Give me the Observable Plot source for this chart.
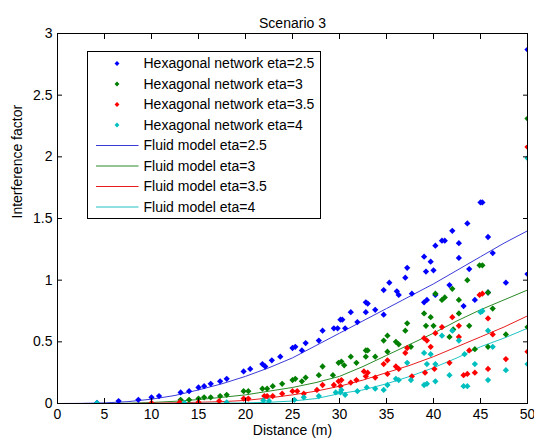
<!DOCTYPE html>
<html><head><meta charset="utf-8">
<script src="https://cdn.jsdelivr.net/npm/d3@7"></script>
<script src="https://cdn.jsdelivr.net/npm/@observablehq/plot@0.6"></script>
<style>body{margin:0;background:#fff;} #chart{position:relative;width:534px;height:443px;}</style>
</head><body><div id="chart"></div>
<script>
// ---- tick values ----
const xTicks = [0, 5, 10, 15, 20, 25, 30, 35, 40, 45, 50];
const yTicks = [0, 0.5, 1, 1.5, 2, 2.5, 3];
const yTickLabels = ["0", "0.5", "1", "1.5", "2", "2.5", "3"];

// ---- series labels / colors ----
const hexLabels = ["Hexagonal network eta=2.5", "Hexagonal network eta=3", "Hexagonal network eta=3.5", "Hexagonal network eta=4"];
const fluidLabels = ["Fluid model eta=2.5", "Fluid model eta=3", "Fluid model eta=3.5", "Fluid model eta=4"];
const colors = ["#0000ff", "#007f00", "#ff0000", "#00bfbf"];
const lineColors = ["#3a3ad8", "#2a8a2a", "#e81c1c", "#20c4c4"];

// ---- Hexagonal network (scatter) ----
const hexX25 = [4.2,6.5,8.6,10.0,10.8,13.1,14.0,15.0,15.6,16.3,17.3,18.0,19.8,20.5,21.8,22.1,22.8,23.7,25.0,25.3,26.0,26.4,27.8,28.2,29.4,29.8,30.1,30.3,30.6,31.2,31.9,32.8,33.0,32.8,33.8,34.7,34.7,35.3,36.1,36.3,37.0,37.2,37.7,39.0,39.0,39.3,39.2,39.7,40.0,40.2,40.2,40.9,41.2,41.7,42.0,42.7,42.7,43.2,43.6,43.8,44.4,45.0,45.2,45.8,45.8,46.3,47.7,50,50];
const hexY25 = [0.005,0.02,0.03,0.05,0.06,0.09,0.10,0.13,0.14,0.16,0.18,0.20,0.26,0.28,0.32,0.30,0.35,0.38,0.45,0.46,0.43,0.49,0.51,0.59,0.61,0.61,0.68,0.68,0.61,0.74,0.66,0.82,0.81,0.74,0.76,0.72,0.92,0.98,0.91,0.88,1.02,1.10,0.89,1.19,0.82,0.84,1.07,1.15,1.08,1.28,0.88,1.32,1.32,0.96,1.40,1.30,1.18,0.79,1.46,1.09,0.84,1.63,1.63,1.35,0.90,1.22,0.98,1.05,2.87];

const hexX3 = [13.1,14.0,15.0,15.6,16.3,17.3,18.0,19.8,20.3,21.8,22.3,22.9,23.9,25.0,25.3,26.0,26.4,27.8,28.2,29.3,29.9,30.2,30.5,31.2,31.8,32.8,33.0,32.8,33.8,34.7,35.1,35.1,36.0,36.3,37.0,37.2,37.6,39.0,39.2,39.7,40.0,40.2,40.9,41.2,41.7,42.0,42.1,42.7,42.7,43.6,43.8,44.4,44.9,45.2,45.8,45.8,46.3,47.7,50,50];
const hexY3 = [0.03,0.03,0.04,0.05,0.05,0.06,0.07,0.10,0.10,0.12,0.12,0.14,0.16,0.19,0.20,0.18,0.21,0.23,0.30,0.23,0.33,0.34,0.31,0.38,0.33,0.43,0.43,0.38,0.38,0.51,0.42,0.55,0.50,0.48,0.59,0.65,0.46,0.73,0.63,0.70,0.63,0.89,0.84,0.86,0.54,0.93,0.60,0.84,0.73,1.00,0.63,0.44,1.12,1.12,0.90,0.46,0.77,0.56,0.62,2.31];

const hexX35 = [10.0,13.0,15.0,17.2,19.8,20.3,22.0,22.3,22.9,23.9,25.0,25.5,26.2,27.6,28.2,29.4,29.9,30.2,30.1,31.2,31.8,32.6,33.0,32.8,33.8,34.7,35.1,35.1,36.0,36.3,37.0,37.2,37.7,39.0,39.1,39.3,39.7,40.2,40.1,40.9,42.0,41.7,42.7,42.7,43.2,43.6,43.8,44.4,44.9,45.2,45.8,45.8,46.3,47.7,50,50];
const hexY35 = [0.005,0.01,0.01,0.02,0.04,0.04,0.06,0.06,0.06,0.08,0.10,0.10,0.08,0.11,0.15,0.15,0.18,0.19,0.14,0.17,0.19,0.26,0.25,0.22,0.21,0.32,0.24,0.35,0.30,0.28,0.41,0.45,0.22,0.53,0.25,0.51,0.46,0.57,0.28,0.62,0.70,0.33,0.63,0.54,0.23,0.24,0.43,0.25,0.88,0.89,0.69,0.28,0.56,0.36,0.42,2.08];

const hexX4 = [4.2,13.5,18.0,21.9,22.5,25.2,26.2,27.8,29.6,30.1,30.2,30.6,31.9,32.9,33.8,34.7,35.1,36.0,36.3,37.2,37.6,39.0,39.0,39.3,39.3,39.7,40.2,40.2,40.9,41.7,42.0,42.7,43.3,43.2,43.6,44.4,45.0,45.2,45.8,45.8,46.3,47.7,50,50];
const hexY4 = [0.005,0.005,0.01,0.025,0.02,0.03,0.05,0.06,0.09,0.09,0.11,0.07,0.10,0.13,0.12,0.11,0.15,0.20,0.19,0.33,0.19,0.41,0.15,0.16,0.32,0.40,0.32,0.18,0.55,0.23,0.59,0.51,0.40,0.14,0.14,0.32,0.74,0.75,0.59,0.19,0.46,0.27,0.32,1.99];

// ---- Fluid model (lines) ----
const fluidX = [0,2.5,5,7.5,10,12.5,15,17.5,20,22.5,25,27.5,30,32.5,35,37.5,40,42.5,45,47.5,50];
const fluidY25 = [0,0.001,0.005,0.015,0.035,0.065,0.11,0.16,0.22,0.29,0.37,0.47,0.57,0.67,0.77,0.87,0.97,1.08,1.19,1.30,1.40];
const fluidY3 = [0,0,0,0.002,0.008,0.018,0.032,0.05,0.07,0.10,0.13,0.17,0.22,0.30,0.39,0.48,0.57,0.67,0.76,0.84,0.92];
const fluidY35 = [0,0,0,0,0.002,0.006,0.01,0.015,0.025,0.045,0.07,0.10,0.14,0.19,0.25,0.31,0.38,0.46,0.54,0.62,0.71];
const fluidY4 = [0,0,0,0,0,0.001,0.002,0.003,0.005,0.01,0.02,0.04,0.08,0.11,0.16,0.22,0.29,0.37,0.46,0.53,0.61];

const hexXs = [hexX25, hexX3, hexX35, hexX4];
const hexYs = [hexY25, hexY3, hexY35, hexY4];
const fluidYs = [fluidY25, fluidY3, fluidY35, fluidY4];

const hexData = hexXs.flatMap((xs, i) => xs.map((x, j) => ({x, y: hexYs[i][j], s: i})));
const fluidData = fluidYs.flatMap((ys, i) => ys.map((y, j) => ({x: fluidX[j], y, s: i})));

// a square diamond (equal width and height), like MATLAB's point marker
const rhombus = {
  draw(ctx, size) {
    const r = Math.sqrt(size / 2);
    ctx.moveTo(0, -r); ctx.lineTo(r, 0); ctx.lineTo(0, r); ctx.lineTo(-r, 0); ctx.closePath();
  }
};

const FONT = "Liberation Sans, Arial, Helvetica, sans-serif";

const chart = Plot.plot({
  width: 534, height: 443,
  marginLeft: 57, marginRight: 7, marginTop: 33, marginBottom: 40,
  style: {fontFamily: FONT, fontSize: "14px", color: "#000", background: "#fff"},
  x: {domain: [0, 50]},
  y: {domain: [0, 3]},
  marks: [
    Plot.line(fluidData, {x: "x", y: "y", z: "s", stroke: d => lineColors[d.s], strokeWidth: 1, clip: true}),
    Plot.dot(hexData, {x: "x", y: "y", symbol: rhombus, r: 2.5, fill: d => colors[d.s], stroke: "none", clip: true}),
    Plot.frame({stroke: "#000", strokeWidth: 1}),
    Plot.axisX(xTicks, {anchor: "bottom", tickSize: -5, tickPadding: 11, label: null, stroke: "#000"}),
    Plot.axisX(xTicks, {anchor: "top", tickSize: -5, tickFormat: () => "", label: null, stroke: "#000"}),
    Plot.axisY(yTicks, {anchor: "left", tickSize: -5, tickPadding: 10, label: null, tickFormat: (d, i) => yTickLabels[i], stroke: "#000"}),
    Plot.axisY(yTicks, {anchor: "right", tickSize: -5, tickFormat: () => "", label: null, stroke: "#000"}),
    Plot.text(["Scenario 3"], {frameAnchor: "top", dy: -15, fill: "#000"}),
    Plot.text(["Distance (m)"], {frameAnchor: "bottom", dy: 31, fill: "#000"}),
    Plot.text(["Interference factor"], {frameAnchor: "left", dx: -40, rotate: -90, fill: "#000"})
  ]
});
document.getElementById("chart").appendChild(chart);

// ---- legend (inside the plot area, top-left) ----
const svg = d3.select(chart);
const lg = svg.append("g").attr("transform", "translate(87.5,51.5)")
  .style("font-family", FONT).style("font-size", "14px").attr("text-anchor", "start");
lg.append("rect").attr("width", 233).attr("height", 167).attr("fill", "#fff").attr("stroke", "#000").attr("stroke-width", 1);
const rowY = i => 12 + i * 20.5;
hexLabels.forEach((t, i) => {
  lg.append("path").attr("d", d3.symbol(rhombus, 12)())
    .attr("transform", `translate(29.5,${rowY(i)})`).attr("fill", colors[i]);
  lg.append("text").attr("x", 56).attr("y", rowY(i)).attr("dy", "0.35em").attr("fill", "#000").attr("text-anchor", "start").text(t);
});
fluidLabels.forEach((t, k) => {
  const i = k + 4;
  lg.append("line").attr("x1", 8.5).attr("x2", 51).attr("y1", rowY(i)).attr("y2", rowY(i))
    .attr("stroke", lineColors[k]).attr("stroke-width", 1);
  lg.append("text").attr("x", 56).attr("y", rowY(i)).attr("dy", "0.35em").attr("fill", "#000").attr("text-anchor", "start").text(t);
});
</script>
</body></html>
